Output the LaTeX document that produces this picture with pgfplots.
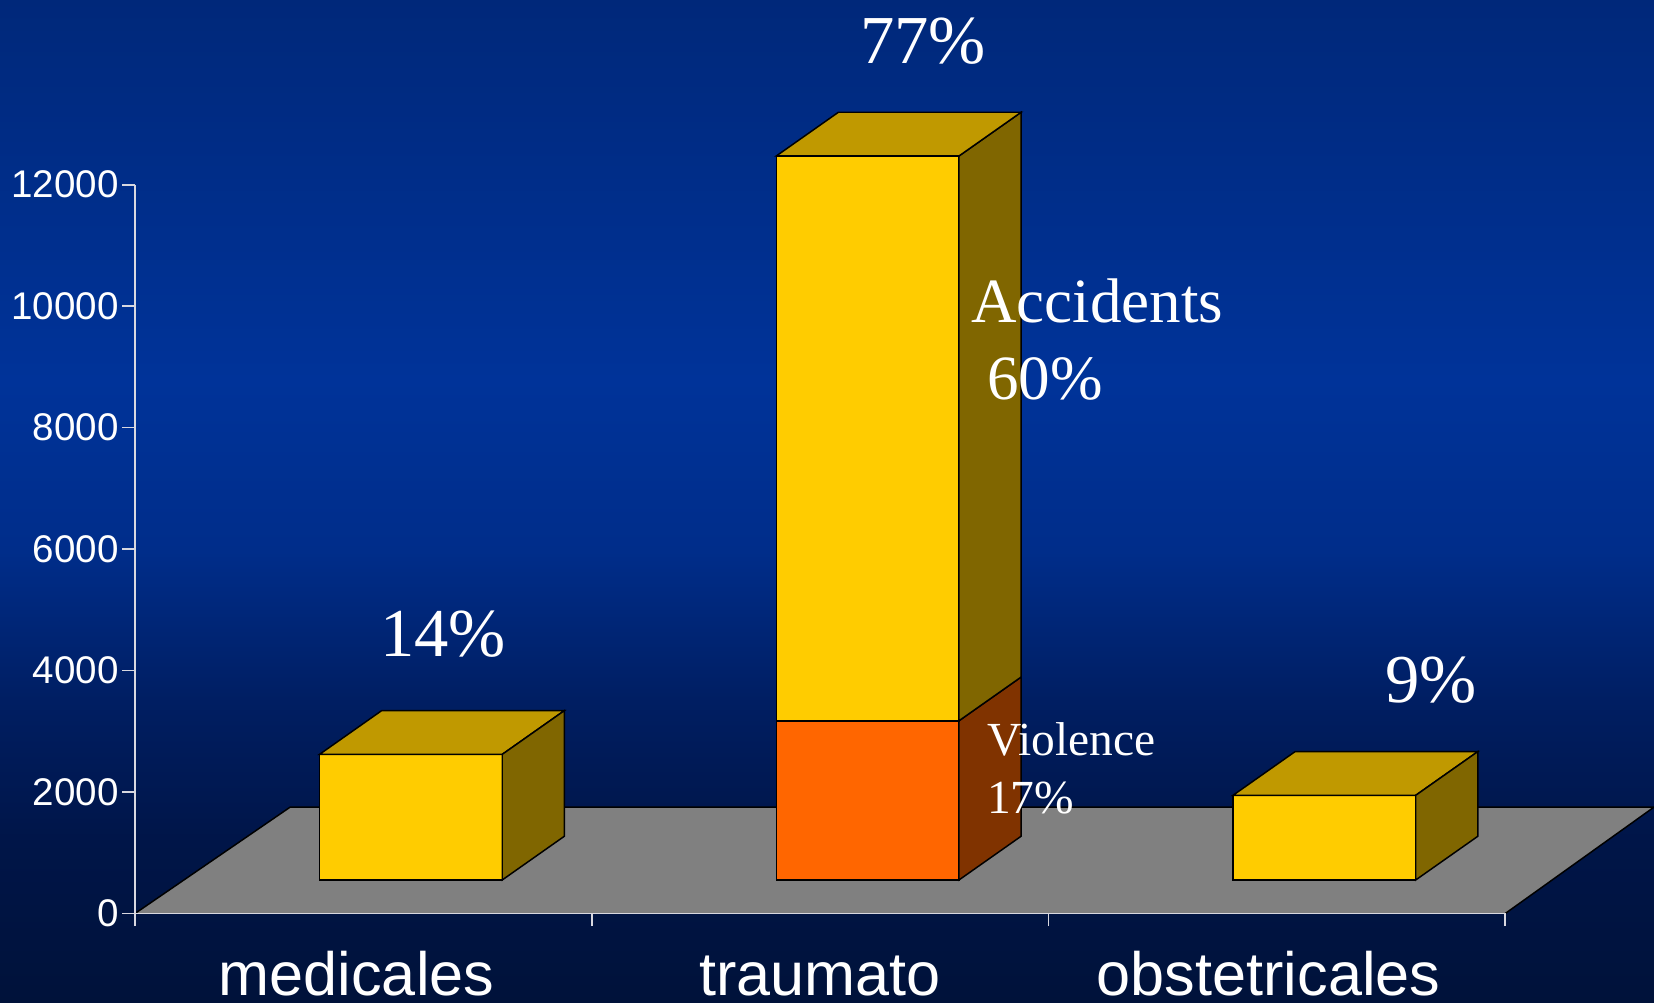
\documentclass[border=0pt]{standalone}
\usepackage{pgfplots}
\pgfplotsset{compat=1.18}
\usepackage{fontspec}
\setmainfont{Liberation Serif}
\setsansfont{Liberation Sans}
\definecolor{bgtop}{HTML}{00287A}
\definecolor{bgmid}{HTML}{003399}
\definecolor{bgmid2}{HTML}{002D8A}
\definecolor{bglow}{HTML}{001E62}
\definecolor{bglow2}{HTML}{001548}
\definecolor{bgbot}{HTML}{00123A}
\definecolor{barfront}{HTML}{FFCC00}
\definecolor{bartop}{HTML}{C09900}
\definecolor{barside}{HTML}{806600}
\definecolor{violfront}{HTML}{FF6600}
\definecolor{violside}{HTML}{803300}
\definecolor{floorgray}{HTML}{808080}
\definecolor{axisgray}{HTML}{D8D8E0}
\pgfdeclareverticalshading{bgshade}{100bp}{color(0bp)=(bgbot); color(25bp)=(bgbot); color(33bp)=(bglow2); color(40bp)=(bglow); color(47.5bp)=(bgmid2); color(56bp)=(bgmid); color(75bp)=(bgtop); color(100bp)=(bgtop)}
\begin{document}
\begin{tikzpicture}
\shade[shading=bgshade] (-12.8mm,-8.4mm) rectangle (144mm,86.6mm);
\begin{axis}[
  scale only axis, width=129.9mm, height=69.1mm,
  xmin=0, xmax=3, ymin=0, ymax=12000,
  clip=false, axis on top,
  axis x line*=bottom, axis y line*=left,
  axis line style={draw=axisgray, line width=0.5pt},
  tick style={draw=axisgray, line width=0.5pt},
  tick align=outside, major tick length=1.2mm,
  xtick={0,1,2,3}, xticklabels={},
  ytick={0,2000,4000,6000,8000,10000,12000},
  scaled y ticks=false,
  /pgf/number format/assume math mode=true,
  /pgf/number format/set thousands separator={},
  yticklabel style={font=\sffamily\fontsize{10.4}{12}\selectfont, text=white, xshift=0.9mm},
]
% floor
\addplot[fill=floorgray, draw=none] coordinates {(0,0) (3,0) (3.326,1753) (0.34,1753)} -- cycle;
\addplot[black, line width=0.4pt] coordinates {(0,0) (0.34,1753) (3.326,1753) (3,0)};
% medicales
\addplot[fill=barfront, draw=black, line width=0.4pt] coordinates {(0.404,552) (0.804,552) (0.804,2620) (0.404,2620)} -- cycle;
\addplot[fill=bartop, draw=black, line width=0.4pt] coordinates {(0.404,2620) (0.804,2620) (0.940,3340) (0.540,3340)} -- cycle;
\addplot[fill=barside, draw=black, line width=0.4pt] coordinates {(0.804,552) (0.940,1272) (0.940,3340) (0.804,2620)} -- cycle;
% traumato
\addplot[fill=violfront, draw=black, line width=0.4pt] coordinates {(1.404,552) (1.804,552) (1.804,3173) (1.404,3173)} -- cycle;
\addplot[fill=violside, draw=black, line width=0.4pt] coordinates {(1.804,552) (1.940,1272) (1.940,3893) (1.804,3173)} -- cycle;
\addplot[fill=barfront, draw=black, line width=0.4pt] coordinates {(1.404,3173) (1.804,3173) (1.804,12471) (1.404,12471)} -- cycle;
\addplot[fill=barside, draw=black, line width=0.4pt] coordinates {(1.804,3173) (1.940,3893) (1.940,13191) (1.804,12471)} -- cycle;
\addplot[fill=bartop, draw=black, line width=0.4pt] coordinates {(1.404,12471) (1.804,12471) (1.940,13191) (1.540,13191)} -- cycle;
% obstetricales
\addplot[fill=barfront, draw=black, line width=0.4pt] coordinates {(2.404,552) (2.804,552) (2.804,1946) (2.404,1946)} -- cycle;
\addplot[fill=bartop, draw=black, line width=0.4pt] coordinates {(2.404,1946) (2.804,1946) (2.940,2666) (2.540,2666)} -- cycle;
\addplot[fill=barside, draw=black, line width=0.4pt] coordinates {(2.804,552) (2.940,1272) (2.940,2666) (2.804,1946)} -- cycle;
% labels
\node[anchor=base, text=white, font=\fontsize{18.5}{22}\selectfont, inner sep=0pt] at (axis cs:1.725,13993) {77\%};
\node[anchor=base, text=white, font=\fontsize{18.5}{22}\selectfont, inner sep=0pt] at (axis cs:0.674,4236) {14\%};
\node[anchor=base, text=white, font=\fontsize{18.5}{22}\selectfont, inner sep=0pt] at (axis cs:2.838,3472) {9\%};
\node[anchor=base west, text=white, font=\fontsize{17}{20}\selectfont, inner sep=0pt] at (axis cs:1.829,9722) {Accidents};
\node[anchor=base west, text=white, font=\fontsize{17}{20}\selectfont, inner sep=0pt] at (axis cs:1.864,8454) {60\%};
\node[anchor=base west, text=white, font=\fontsize{12.8}{15}\selectfont, inner sep=0pt] at (axis cs:1.864,2604) {Violence};
\node[anchor=base west, text=white, font=\fontsize{12.8}{15}\selectfont, inner sep=0pt] at (axis cs:1.864,1649) {17\%};
\node[anchor=base, text=white, font=\sffamily\fontsize{16.5}{20}\selectfont, inner sep=0pt, yshift=-7.75mm] at (axis cs:0.485,0) {medicales};
\node[anchor=base, text=white, font=\sffamily\fontsize{16.5}{20}\selectfont, inner sep=0pt, yshift=-7.75mm] at (axis cs:1.5,0) {traumato};
\node[anchor=base, text=white, font=\sffamily\fontsize{16.5}{20}\selectfont, inner sep=0pt, yshift=-7.75mm] at (axis cs:2.482,0) {obstetricales};
\end{axis}
\pgfresetboundingbox
\useasboundingbox (-12.8mm,-8.4mm) rectangle (144mm,86.6mm);
\end{tikzpicture}
\end{document}
